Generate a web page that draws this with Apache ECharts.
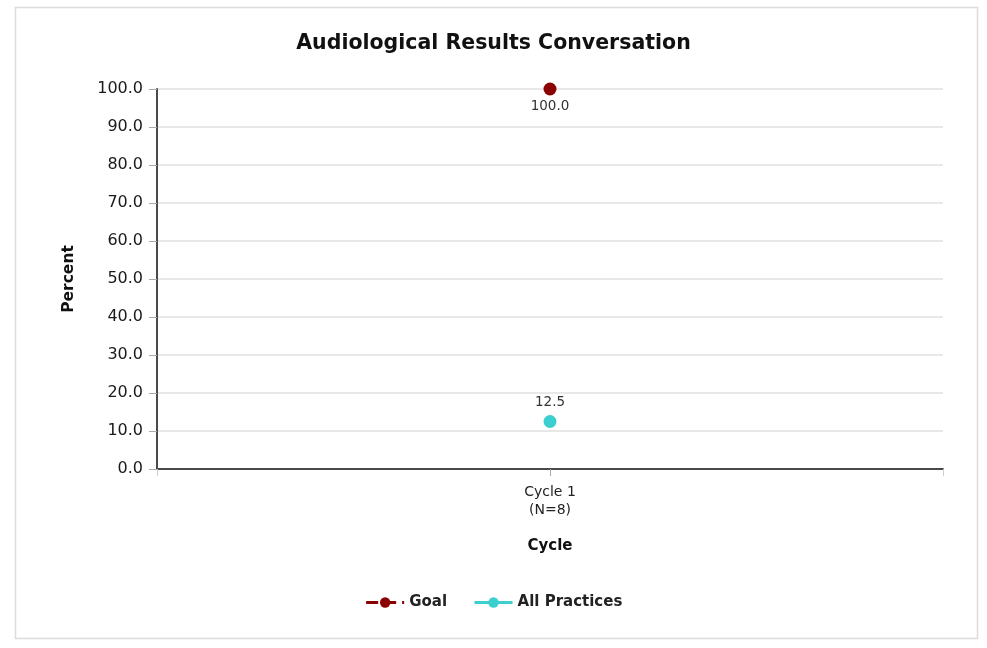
<!DOCTYPE html>
<html>
<head>
<meta charset="utf-8">
<script src="https://cdn.jsdelivr.net/npm/echarts@6/dist/echarts.min.js"></script>
<style>
  html, body { margin: 0; padding: 0; background: #fff; }
  #chart { width: 987px; height: 648px; }
</style>
</head>
<body>
<div id="chart"></div>
<script>
// Cycle categories and the percent values per series
const cycles = ['Cycle 1\n(N=8)'];
const goalValues = [100.0];
const allPracticesValues = [12.5];
const yTicks = { min: 0, max: 100, step: 10 };

const chart = echarts.init(document.getElementById('chart'));
const font = "'DejaVu Sans', Verdana, sans-serif";

chart.setOption({
  animation: false,
  backgroundColor: '#fff',
  graphic: [{
    type: 'rect',
    shape: { x: 15.5, y: 7.5, width: 962, height: 631 },
    style: { fill: 'none', stroke: '#dcdcdc', lineWidth: 1.5 },
    silent: true
  }],
  title: {
    text: 'Audiological Results Conversation',
    left: 'center',
    top: 28,
    textStyle: { fontFamily: font, fontWeight: 'bold', fontSize: 20.5, color: '#111' }
  },
  legend: {
    bottom: 33,
    left: 'center',
    itemWidth: 38,
    itemHeight: 13,
    itemGap: 26,
    lineStyle: { width: 3 },
    textStyle: { fontFamily: font, fontWeight: 'bold', fontSize: 15, color: '#222' },
    data: ['Goal', 'All Practices']
  },
  grid: { left: 157, right: 44, top: 89, bottom: 179 },
  xAxis: [{
    type: 'category',
    data: cycles,
    boundaryGap: true,
    name: 'Cycle',
    nameLocation: 'middle',
    nameGap: 70,
    nameTextStyle: { fontFamily: font, fontWeight: 'bold', fontSize: 15, color: '#111' },
    axisLine: { lineStyle: { color: '#4a4a4a', width: 2 } },
    axisTick: { show: true, length: 7, lineStyle: { color: '#ccc' } },
    axisLabel: { fontFamily: font, fontSize: 14, color: '#222', lineHeight: 18, margin: 14 }
  }, {
    // second copy of the category axis, only for the centred tick
    type: 'category',
    data: cycles,
    position: 'bottom',
    boundaryGap: true,
    axisLine: { show: false },
    axisTick: { show: true, alignWithLabel: true, length: 7, lineStyle: { color: '#aaa' } },
    axisLabel: { show: false }
  }],
  yAxis: {
    type: 'value',
    min: yTicks.min,
    max: yTicks.max,
    interval: yTicks.step,
    name: 'Percent',
    nameLocation: 'middle',
    nameGap: 80,
    nameRotate: 90,
    nameTextStyle: { fontFamily: font, fontWeight: 'bold', fontSize: 15.5, color: '#111' },
    axisLine: { show: true, lineStyle: { color: '#4a4a4a', width: 2 } },
    axisTick: { show: true, length: 8, lineStyle: { color: '#aaa' } },
    axisLabel: {
      fontFamily: font, fontSize: 16, color: '#1a1a1a', margin: 14,
      formatter: v => v.toFixed(1)
    },
    splitLine: { show: true, lineStyle: { color: '#e0e0e0', width: 1.5 } }
  },
  series: [{
    name: 'Goal',
    type: 'line',
    data: goalValues,
    color: '#8b0000',
    symbol: 'circle',
    symbolSize: 13,
    lineStyle: { type: 'dashed', width: 3 },
    label: {
      show: true, position: 'bottom', distance: 4,
      fontFamily: font, fontSize: 13.5, color: '#333',
      formatter: p => p.value.toFixed(1)
    }
  }, {
    name: 'All Practices',
    type: 'line',
    data: allPracticesValues,
    color: '#3ccfcf',
    symbol: 'circle',
    symbolSize: 13,
    lineStyle: { width: 3 },
    label: {
      show: true, position: 'top', distance: 6,
      fontFamily: font, fontSize: 13.5, color: '#333',
      formatter: p => p.value.toFixed(1)
    }
  }]
});
</script>
</body>
</html>
